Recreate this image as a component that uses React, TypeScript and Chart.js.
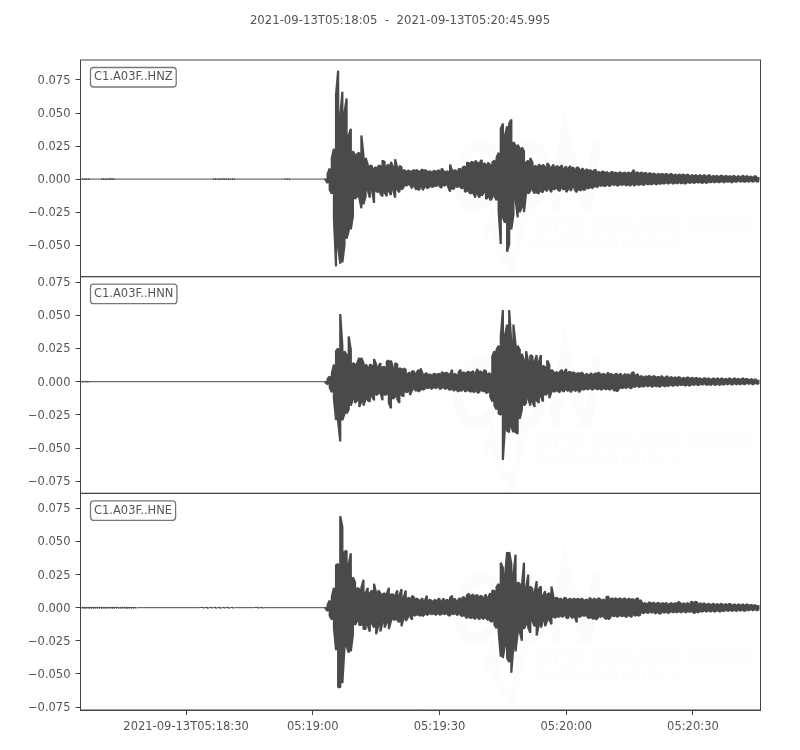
import React, { useEffect, useRef } from "react";
import { Chart, registerables, type Plugin } from "chart.js";

Chart.register(...registerables);

const TITLE = "2021-09-13T05:18:05  -  2021-09-13T05:20:45.995";
const INK = "#4a4a4a";
const TEXT = "#555555";
const EDGE = "#444444";
const FONT = "'DejaVu Sans'";

const END_S = 160.995; // seconds after 05:18:05
const ONSET_S = 58;
const BIN_S = 0.5;

const X_TICK_S = [25, 55, 85, 115, 145];
const X_TICK_LABELS = [
  "2021-09-13T05:18:30",
  "05:19:00",
  "05:19:30",
  "05:20:00",
  "05:20:30",
];
const Y_TICKS = [-0.075, -0.05, -0.025, 0, 0.025, 0.05, 0.075];

// pre-event noise: time (s) and half amplitude (x 1e-3)
const HNZ_QUIET_T = [0, 0.5, 1, 1.5, 2, 2.5, 4.5, 5, 5.5, 6, 6.5, 7, 7.5, 8, 8.5, 31, 31.5, 32, 32.5, 33, 33.5, 34, 34.5, 35, 35.5, 36, 36.5, 37, 48, 48.5, 49, 49.5, 50, 58];
const HNZ_QUIET_A = [0.4, 0.3, 0.4, 0.3, 0.3, 0, 0, 0.3, 0.4, 0.4, 0.3, 0.5, 0.4, 0.3, 0, 0, 0.3, 0.4, 0.3, 0.4, 0.3, 0.4, 0.3, 0.4, 0.3, 0.4, 0.3, 0, 0, 0.3, 0.3, 0.3, 0, 0];
const HNN_QUIET_T = [0, 0.5, 1, 1.5, 2, 2.5, 58];
const HNN_QUIET_A = [0.4, 0.4, 0.3, 0.4, 0.3, 0, 0];
const HNE_QUIET_T = [0, 0.5, 1, 1.5, 2, 2.5, 3, 3.5, 4, 4.5, 5, 5.5, 6, 6.5, 7, 7.5, 8, 8.5, 9, 9.5, 10, 10.5, 11, 11.5, 12, 12.5, 13, 13.5, 28, 29, 30, 31, 32, 33, 34, 35, 36, 36.5, 41, 42, 43, 43.5, 58];
const HNE_QUIET_A = [0.5, 0.4, 0.5, 0.4, 0.5, 0.4, 0.5, 0.4, 0.5, 0.4, 0.5, 0.4, 0.5, 0.4, 0.4, 0.5, 0.4, 0.4, 0.5, 0.4, 0.4, 0.4, 0.5, 0.4, 0.4, 0.4, 0.3, 0, 0, 0.3, 0.4, 0.3, 0.4, 0.4, 0.3, 0.4, 0.3, 0, 0, 0.3, 0.3, 0, 0];

// envelope after the onset, one value per BIN_S, x 1e-3; UP above zero, DOWN below zero
const HNZ_UP = [
  0.5, 4, 8, 16, 23, 64, 82, 48, 66, 50,
  61, 33, 38, 21, 18, 19, 20, 33, 18, 16,
  11, 10, 10, 8, 9, 10, 10, 14, 13, 10,
  11, 13, 9, 15, 8, 10, 9, 7, 6, 6.5,
  6, 6, 7, 7, 6, 6, 7.5, 7, 6, 6,
  5.5, 6, 6, 6.5, 6.5, 8, 6, 5.5, 6, 11,
  6, 7, 6, 7.5, 7.5, 9, 9.5, 12.5, 12, 13,
  12.5, 14, 12, 12.5, 14.5, 12, 11, 12.5, 10.5, 12.5,
  14, 16, 20, 38, 42, 33, 40, 42, 45, 28,
  25, 26, 23, 24, 21, 12.5, 14, 16, 12.5, 10,
  9.5, 11, 10, 11, 9, 12, 10, 8.5, 11, 9,
  10, 9, 10.5, 8, 9.5, 8, 10, 9, 7.5, 9,
  8, 7, 8, 6.5, 7.5, 7, 6, 6.5, 7, 5.5,
  5, 6, 5, 5.5, 4.5, 5, 5.5, 5, 4.5, 5,
  5, 4.5, 5, 4.5, 5, 4.5, 7, 5, 5, 4.5,
  5, 4.5, 4.5, 4, 4.5, 4, 4, 3.5, 4, 4,
  3.5, 4, 3.5, 3.5, 4, 3, 3.5, 3, 3.5, 3.5,
  3, 3.5, 3, 2.5, 3, 3, 2.5, 3, 2.5, 3,
  2.5, 2.5, 3, 2, 2.5, 2.5, 2, 2.5, 2.5, 2,
  2.5, 2, 2, 2.5, 2, 2, 2, 2, 2.5, 2,
  2, 2, 1.5, 2, 2, 1.5,
];
const HNZ_DOWN = [
  0.5, 3, 8, 11, 30, 66, 51, 64, 63, 50,
  45, 39, 38, 28, 15, 13, 14, 22, 19, 13,
  8, 14, 8, 18, 9, 10, 11, 13, 10, 13,
  9, 12, 8, 14, 8, 10, 8, 6, 5, 4.5,
  4, 7, 5, 8, 8.5, 6, 8.5, 5.5, 7, 6,
  5.5, 6, 5.5, 4.5, 5.5, 6.5, 5, 4.5, 5.5, 9.5,
  7.5, 7, 6, 5.5, 6.5, 7, 9.5, 9, 10, 11,
  10.5, 14, 11, 14, 12.5, 10, 15, 14, 16, 14,
  12.5, 16, 24, 49, 29, 33, 55, 49, 38, 27,
  15, 29, 25, 21, 25, 10, 11, 9, 7.5, 11,
  10, 11, 9, 10, 8, 9, 7, 10, 8, 7,
  8, 9, 7, 8, 10, 7, 9, 6, 8, 10,
  8, 8.5, 8, 8, 7, 6.5, 7, 6, 5.5, 6,
  5, 5, 5.5, 4.5, 5, 5, 4, 4.5, 5, 4.5,
  4.5, 4, 4.5, 4.5, 5, 4, 5, 4, 4.5, 4,
  4, 4.5, 3.5, 4, 4, 3.5, 3.5, 4, 3.5, 3.5,
  3.5, 3, 3.5, 3, 3, 3.5, 3, 3, 3, 3,
  3.5, 3, 2.5, 3, 2.5, 3, 2.5, 2.5, 3, 2.5,
  3, 2.5, 2.5, 2, 2.5, 2, 2.5, 2, 2, 2.5,
  2, 2, 2.5, 2, 2, 2, 1.5, 2, 2, 2,
  2, 1.5, 2, 1.5, 2, 1.5,
];
const HNN_UP = [
  0.5, 2, 4, 6, 13, 23, 25, 51, 27, 23,
  20, 34, 24, 14, 13, 14, 18, 18, 14, 13,
  11, 13, 12, 17, 13, 11, 14, 11, 11, 15,
  16, 16, 10, 14, 13, 10, 9.5, 10, 9, 6,
  7, 8, 7.5, 6, 9, 10, 6, 5.5, 6.5, 5.5,
  5, 5.5, 6, 5.5, 6, 7, 6.5, 7, 6, 5.5,
  9, 6, 5, 7, 9, 7, 6.5, 7, 7.5, 7,
  8, 6, 9.5, 8, 7, 8.5, 8, 6, 6, 19,
  23, 24, 27, 34, 54, 35, 43, 54, 29, 43,
  28, 27, 24, 21, 16, 23, 15, 20, 19, 15,
  20, 15, 20, 12, 11, 16, 12.5, 9, 7.5, 7,
  7, 7.5, 9, 7, 9.5, 7, 7.5, 7, 6.5, 6,
  6.5, 7, 6, 5, 6, 5, 6.5, 5, 6.5, 7,
  6, 5.5, 6, 5, 7, 6, 5, 5.5, 6, 5,
  6, 4.5, 6, 5.5, 5, 6.5, 7, 5, 5.5, 4,
  4, 3.5, 4, 4.5, 3.5, 4, 4, 3.5, 3.5, 4.5,
  3, 3.5, 4, 3, 3.5, 3, 3, 3.5, 3, 2.5,
  3, 3, 3, 2.5, 3, 2.5, 3, 2.5, 2, 2.5,
  2.5, 2.5, 2, 2, 2.5, 2, 2.5, 2, 2.5, 2,
  2, 2.5, 2, 2, 2.5, 2, 2, 2, 2.5, 2,
  2, 1.5, 2, 1.5, 1.5, 1.5,
];
const HNN_DOWN = [
  0.5, 2, 4.5, 8, 13, 29, 30, 45, 29, 24,
  24, 21, 18, 13, 16, 14, 19, 15, 18, 13,
  14, 15, 11, 14, 10, 9, 8, 14, 10, 9.5,
  16, 20, 13, 11, 13, 16, 10, 11, 8, 7.5,
  10, 6.5, 5.5, 7, 7.5, 6, 6, 5.5, 5, 4.5,
  5.5, 4.5, 5, 4, 5.5, 5, 4.5, 5.5, 5, 6.5,
  5.5, 7, 6, 7.5, 7, 6, 7.5, 6.5, 7, 7.5,
  8, 7, 8.5, 7.5, 6.5, 7.5, 8.5, 8, 11, 15,
  18, 21, 24, 25, 59, 34, 37, 38, 34, 38,
  38, 39, 28, 21, 18, 16, 12.5, 18, 15, 19,
  14, 16, 11, 15, 10, 9, 12.5, 7.5, 7.5, 7,
  7, 8, 6.5, 7.5, 6, 7, 8, 6, 7, 6.5,
  8, 6, 6, 5.5, 6, 5, 6, 5.5, 5, 6,
  5.5, 6, 5, 6, 5.5, 6, 5, 7, 7.5, 5,
  5, 4.5, 5, 4, 4.5, 5, 4, 3.5, 3.5, 4,
  3.5, 3.5, 3, 3.5, 3, 4, 3, 3.5, 4, 3,
  3, 3.5, 3.5, 2.5, 3, 3, 2.5, 3, 2.5, 2.5,
  3, 2.5, 3, 2.5, 2.5, 2, 2.5, 2.5, 2, 2,
  2, 2.5, 2.5, 2, 2, 2.5, 2, 2.5, 2, 2,
  2, 1.5, 2, 2, 1.5, 2, 2, 1.5, 2, 1.5,
  1.5, 1.5, 2, 1.5, 1.5, 1.5,
];
const HNE_UP = [
  0.5, 2, 5.5, 8, 15, 32, 33, 69, 61, 42,
  43, 33, 41, 23, 19, 15, 14, 15, 21, 11,
  15, 11, 13, 18, 11, 13, 11, 10, 11, 10,
  15, 10, 10, 9, 13, 9, 14, 7.5, 13, 7.5,
  7, 9, 7.5, 7, 6, 5.5, 7, 5, 9, 6,
  5.5, 5, 6, 5.5, 7, 5, 7, 5.5, 6, 7.5,
  9, 7, 5, 6.5, 7, 8, 7.5, 9.5, 10.5, 9,
  10, 9, 9.5, 8.5, 9, 7.5, 10, 7.5, 11, 13,
  12.5, 15.5, 18, 34, 30, 24, 42, 42, 33, 25,
  40, 19, 18, 16, 34, 15, 25, 16, 14, 11,
  20, 14, 16, 9, 12.5, 10, 11, 16, 7.5, 7.5,
  7, 7, 6, 7.5, 7, 6, 7, 6, 7, 6.5,
  6.5, 7, 6, 6, 6, 7.5, 6, 7, 6, 7,
  6.5, 6, 6, 8, 8.5, 6.5, 7, 7, 6.5, 7,
  6.5, 6.5, 7, 6, 7, 6.5, 6, 6.5, 7, 6,
  3.5, 3.5, 3, 4, 3.5, 4, 3, 3.5, 3.5, 3,
  3.5, 3.5, 3, 3, 3.5, 3, 3.5, 4.5, 3.5, 3,
  3, 3.5, 3, 4.5, 4, 4.5, 4, 3, 3, 3.5,
  2.5, 3, 2.5, 2.5, 3, 2.5, 2.5, 3, 2.5, 2.5,
  2.5, 3, 2.5, 2, 2.5, 2, 2.5, 2, 2.5, 2,
  2.5, 2, 2, 2, 1.5, 2,
];
const HNE_DOWN = [
  0.5, 2.5, 6, 9, 15, 32, 60, 60, 57, 30,
  29, 34, 33, 20, 13, 10, 13, 13, 16, 16,
  13, 18, 12, 15, 20, 13, 18, 11, 15, 11,
  16, 10, 9, 9, 9.5, 11, 14, 7.5, 10, 7.5,
  6, 9, 6, 5.5, 5.5, 6, 6.5, 5, 5.5, 4.5,
  5, 4.5, 5.5, 4.5, 5.5, 4.5, 5, 4.5, 5.5, 6,
  5, 4.5, 5.5, 5, 5.5, 6.5, 6, 8, 7, 8,
  7.5, 8.5, 7, 9, 7.5, 8.5, 7.5, 9.5, 10, 10.5,
  13, 15.5, 18, 37, 38, 28, 38, 41, 49, 29,
  33, 19, 18, 25, 16, 12.5, 15, 19, 10, 14,
  21, 12.5, 15, 10, 14, 9.5, 9, 12.5, 7, 7.5,
  7, 6.5, 7, 6, 7.5, 8, 6, 8, 6.5, 11,
  7, 6.5, 6, 6, 7, 8, 7.5, 8.5, 9, 7.5,
  7, 6.5, 7.5, 8.5, 9, 7, 6, 6.5, 7, 6,
  6.5, 6, 7, 6.5, 6, 7, 5.5, 6, 6, 5.5,
  4, 4, 3.5, 4, 3.5, 3.5, 4.5, 3.5, 4.5, 4,
  3.5, 3.5, 4, 3.5, 3, 3.5, 3.5, 3, 3.5, 3,
  3, 3.5, 3, 3, 3.5, 4, 3.5, 3, 3, 2.5,
  3, 2.5, 3, 2.5, 3, 2.5, 2.5, 3, 2.5, 2.5,
  2, 2.5, 2, 2.5, 2, 2.5, 2, 2, 2.5, 2,
  2, 1.5, 2, 1.5, 2, 1.5,
];

const PANELS = [
  { id: "y1", label: "C1.A03F..HNZ", min: -0.0738, max: 0.0901, quietT: HNZ_QUIET_T, quietA: HNZ_QUIET_A, up: HNZ_UP, down: HNZ_DOWN },
  { id: "y2", label: "C1.A03F..HNN", min: -0.0841, max: 0.0791, quietT: HNN_QUIET_T, quietA: HNN_QUIET_A, up: HNN_UP, down: HNN_DOWN },
  { id: "y3", label: "C1.A03F..HNE", min: -0.0772, max: 0.0863, quietT: HNE_QUIET_T, quietA: HNE_QUIET_A, up: HNE_UP, down: HNE_DOWN },
];

const quietTrace = (p: (typeof PANELS)[number]) => {
  const pts: { x: number; y: number }[] = [];
  p.quietT.forEach((t, i) => {
    pts.push({ x: t, y: p.quietA[i]! / 1000 });
    pts.push({ x: t, y: -p.quietA[i]! / 1000 });
  });
  return pts;
};

// walk the envelope down one bin and up the next so the trace reads as a solid waveform
const eventTrace = (p: (typeof PANELS)[number]) => {
  const pts: { x: number; y: number }[] = [];
  p.up.forEach((u, i) => {
    const x = Math.min(ONSET_S + i * BIN_S, END_S);
    const hi = { x, y: u / 1000 };
    const lo = { x, y: -p.down[i]! / 1000 };
    if (i % 2 === 0) pts.push(hi, lo);
    else pts.push(lo, hi);
  });
  return pts;
};

const panelDecor: Plugin<"scatter"> = {
  id: "panelDecor",
  // faint agency watermark behind each trace
  beforeDatasetsDraw: (chart) => {
    const ctx = chart.ctx;
    ctx.save();
    PANELS.forEach((p) => {
      const top = chart.scales[p.id]!.top;
      ctx.fillStyle = "#fcfcfc";
      ctx.strokeStyle = "#fcfcfc";
      ctx.font = "italic bold 100px 'Liberation Sans'";
      ctx.textAlign = "left";
      ctx.textBaseline = "alphabetic";
      ctx.fillText("CSN", 450, top + 150, 150);
      ctx.font = "italic 20px 'Liberation Sans'";
      ctx.fillText("CENTRO SISMOLÓGICO NACIONAL", 531, top + 170, 224);
      ctx.fillText("UNIVERSIDAD DE CHILE", 529, top + 189, 152);
      ctx.lineWidth = 7;
      ctx.beginPath();
      ctx.moveTo(484, top + 180);
      ctx.lineTo(491, top + 158);
      ctx.lineTo(500, top + 190);
      ctx.lineTo(511, top + 208);
      ctx.lineTo(526, top + 150);
      ctx.stroke();
      ctx.beginPath();
      ctx.moveTo(553, top + 140);
      ctx.lineTo(565, top + 68);
      ctx.lineTo(585, top + 150);
      ctx.stroke();
    });
    ctx.restore();
  },
  // axes frame, title and the station label of each panel
  afterDatasetsDraw: (chart) => {
    const ctx = chart.ctx;
    const { left, right } = chart.chartArea;
    ctx.save();
    ctx.font = `11.7px ${FONT}`;
    ctx.fillStyle = TEXT;
    ctx.textAlign = "center";
    ctx.textBaseline = "middle";
    ctx.fillText(TITLE, 400, 20.5);
    PANELS.forEach((p) => {
      const s = chart.scales[p.id]!;
      ctx.strokeStyle = EDGE;
      ctx.lineWidth = 1;
      ctx.strokeRect(left, s.top, right - left, s.bottom - s.top);

      ctx.font = `11.5px ${FONT}`;
      const w = ctx.measureText(p.label).width + 7;
      ctx.beginPath();
      ctx.roundRect(90.5, s.top + 7.5, w, 19.5, 3);
      ctx.fillStyle = "#ffffff";
      ctx.fill();
      ctx.strokeStyle = "#777777";
      ctx.lineWidth = 1.3;
      ctx.stroke();
      ctx.fillStyle = TEXT;
      ctx.textAlign = "left";
      ctx.textBaseline = "middle";
      ctx.fillText(p.label, 94, s.top + 17.5);
    });
    ctx.restore();
  },
};

const App = () => {
  const canvasRef = useRef<HTMLCanvasElement>(null);

  useEffect(() => {
    const ctx = canvasRef.current?.getContext("2d");
    if (!ctx) return;

    // stacked axes are placed bottom-up, so the last panel goes first
    const yScales: Record<string, object> = {};
    [...PANELS].reverse().forEach((p) => {
      yScales[p.id] = {
        type: "linear",
        position: "left",
        stack: "traces",
        stackWeight: 1,
        min: p.min,
        max: p.max,
        afterFit: (scale: any) => {
          scale.width = 80.5;
        },
        afterBuildTicks: (scale: any) => {
          scale.ticks = Y_TICKS.filter((v) => v >= p.min && v <= p.max).map((value) => ({ value }));
        },
        border: { color: EDGE },
        grid: { drawOnChartArea: false, drawTicks: true, tickLength: 5, tickColor: EDGE },
        ticks: {
          color: TEXT,
          padding: 5,
          labelOffset: 1,
          font: { family: FONT, size: 11.5 },
          callback: (v: number | string) => Number(v).toFixed(3).replace("-", "\u2212"),
        },
      };
    });

    const traceStyle = { xAxisID: "x", showLine: true, borderColor: INK, pointRadius: 0, tension: 0 };

    const chart = new Chart(ctx, {
      type: "scatter",
      data: {
        datasets: PANELS.flatMap((p) => [
          { ...traceStyle, label: `${p.label} quiet`, data: quietTrace(p), yAxisID: p.id, borderWidth: 1 },
          { ...traceStyle, label: p.label, data: eventTrace(p), yAxisID: p.id, borderWidth: 2.2, borderJoinStyle: "bevel" as const },
        ]),
      },
      options: {
        responsive: false,
        animation: false,
        normalized: true,
        layout: { padding: { top: 60, right: 39.5, bottom: 0, left: 0 } },
        scales: {
          x: {
            type: "linear",
            position: "bottom",
            min: 0,
            max: END_S,
            afterFit: (scale: any) => {
              scale.height = 40;
            },
            afterBuildTicks: (scale: any) => {
              scale.ticks = X_TICK_S.map((value) => ({ value }));
            },
            border: { color: EDGE },
            grid: { drawOnChartArea: false, drawTicks: true, tickLength: 5, tickColor: EDGE },
            ticks: {
              color: TEXT,
              padding: 5,
              maxRotation: 0,
              autoSkip: false,
              font: { family: FONT, size: 11.5 },
              callback: (v: number | string) => X_TICK_LABELS[X_TICK_S.indexOf(Number(v))] ?? "",
            },
          },
          ...yScales,
        } as any,
        plugins: {
          legend: { display: false },
          tooltip: { enabled: false },
          title: { display: false },
        },
      },
      plugins: [panelDecor],
    });

    return () => {
      chart.destroy();
    };
  }, []);

  return (
    <div style={{ position: "absolute", left: 0, top: 0, width: 800, height: 750, background: "#fff" }}>
      <canvas ref={canvasRef} width={800} height={750} style={{ display: "block" }} />
    </div>
  );
};

export default App;
